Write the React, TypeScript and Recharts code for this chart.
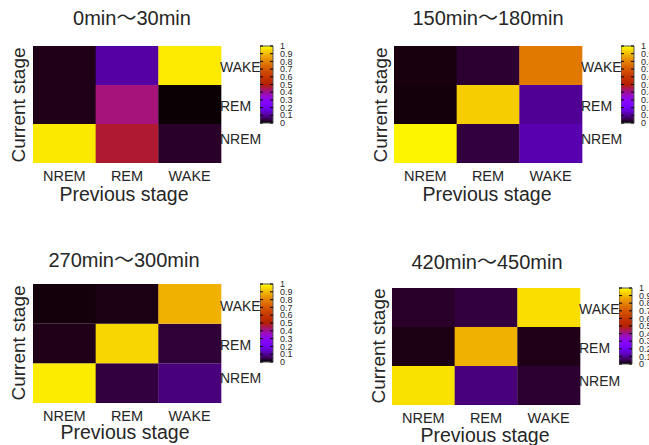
import { BarChart, Bar, Cell, XAxis, YAxis } from 'recharts'

/* ============ 睡眠段階遷移ヒートマップ ============ */

const stages = ['NREM', 'REM', 'WAKE']
const titles = ['0min〜30min', '150min〜180min', '270min〜300min', '420min〜450min']

// 行 = 現在の段階 (NREM, REM, WAKE)、列 = 直前の段階 (NREM, REM, WAKE)
const p0to30 = [
  [0.97, 0.47, 0.025],
  [0.015, 0.42, 0.002],
  [0.015, 0.11, 0.973],
]
const p150to180 = [
  [0.985, 0.04, 0.12],
  [0.006, 0.93, 0.1],
  [0.009, 0.03, 0.78],
]
const p270to300 = [
  [0.975, 0.04, 0.08],
  [0.015, 0.945, 0.035],
  [0.006, 0.012, 0.885],
]
const p420to450 = [
  [0.96, 0.08, 0.03],
  [0.012, 0.885, 0.015],
  [0.025, 0.04, 0.955],
]

// 右側ラベルの位置（行の中心から少しずれている）
const rowLabelTicks = [0.62, 1.45, 2.45]
const colorbarTicks = [0, 0.1, 0.2, 0.3, 0.4, 0.5, 0.6, 0.7, 0.8, 0.9, 1]

const FONT = '"Liberation Sans", Arial, "Noto Sans CJK JP", sans-serif'
const TEXT = '#262626'

// matplotlib の gnuplot カラーマップ
function gnuplot(v: number) {
  const r = Math.sqrt(v)
  const g = v * v * v
  const b = Math.max(0, Math.sin(2 * Math.PI * v))
  const h = (x: number) => Math.round(Math.min(1, Math.max(0, x)) * 255).toString(16).padStart(2, '0')
  return `#${h(r)}${h(g)}${h(b)}`
}

const gradStops = Array.from({ length: 21 }, (_, i) => i / 20)

function Heatmap({ matrix, left, top, w, h }: {
  matrix: number[][]
  left: number
  top: number
  w: number
  h: number
}) {
  const data = stages.map((prev) => ({ prev, NREM: 1, REM: 1, WAKE: 1 }))
  return (
    <div style={{ position: 'absolute', left, top }}>
      <BarChart
        width={w + 50}
        height={h + 30}
        data={data}
        margin={{ top: 0, right: 0, bottom: 0, left: 0 }}
        barCategoryGap={0}
        barGap={0}
      >
        <XAxis
          dataKey="prev"
          axisLine={false}
          tickLine={false}
          height={30}
          tick={{ fontSize: 14.5, fill: TEXT, fontFamily: FONT }}
        />
        <YAxis
          type="number"
          orientation="right"
          domain={[0, 3]}
          ticks={rowLabelTicks}
          tickFormatter={(_, i) => stages[i]}
          width={50}
          axisLine={false}
          tickLine={false}
          tickSize={0}
          tickMargin={-1}
          tick={{ fontSize: 14, fill: TEXT, fontFamily: FONT }}
        />
        {stages.map((cur, row) => (
          <Bar key={cur} dataKey={cur} stackId="a" isAnimationActive={false}>
            {stages.map((prev, col) => (
              <Cell key={prev} fill={gnuplot(matrix[row][col])} />
            ))}
          </Bar>
        ))}
      </BarChart>
    </div>
  )
}

function Colorbar({ id, left, top, w, h }: {
  id: string
  left: number
  top: number
  w: number
  h: number
}) {
  const renderTick = (props: any) => {
    const { x, y, payload } = props
    return (
      <g>
        <line x1={x - w} x2={x - w + 3} y1={y} y2={y} stroke="#000" />
        <line x1={x - 3} x2={x} y1={y} y2={y} stroke="#000" />
        <text x={x + 7} y={y} dy="0.35em" fontSize={9} fill={TEXT} fontFamily={FONT}>
          {payload.value}
        </text>
      </g>
    )
  }
  return (
    <div style={{ position: 'absolute', left, top: top - 6 }}>
      <BarChart
        width={w + 30}
        height={h + 12}
        data={[{ v: 1 }]}
        margin={{ top: 6, right: 0, bottom: 6, left: 0 }}
        barCategoryGap={0}
      >
        <defs>
          <linearGradient id={id} x1="0" y1="1" x2="0" y2="0">
            {gradStops.map((s) => (
              <stop key={s} offset={s} stopColor={gnuplot(s)} />
            ))}
          </linearGradient>
        </defs>
        <XAxis hide height={0} />
        <YAxis
          type="number"
          orientation="right"
          domain={[0, 1]}
          ticks={colorbarTicks}
          width={30}
          axisLine={false}
          tickLine={false}
          tickSize={0}
          tickMargin={0}
          interval={0}
          tick={renderTick}
        />
        <Bar dataKey="v" fill={`url(#${id})`} stroke="#555" strokeWidth={1} isAnimationActive={false} />
      </BarChart>
    </div>
  )
}

function Label({ text, x, y, size, rotate }: {
  text: string
  x: number
  y: number
  size: number
  rotate?: boolean
}) {
  return (
    <div
      style={{
        position: 'absolute',
        left: x,
        top: y,
        transform: `translate(-50%, -50%)${rotate ? ' rotate(-90deg)' : ''}`,
        fontSize: size,
        fontFamily: FONT,
        color: TEXT,
        whiteSpace: 'nowrap',
        lineHeight: 1,
      }}
    >
      {text}
    </div>
  )
}

const panels = [
  { matrix: p0to30, hx: 33, hy: 46, hw: 188, hh: 117, cbx: 260, cby: 46, cbh: 77, tx: 132, ty: 18, yl: [18, 105], xl: [124, 195] },
  { matrix: p150to180, hx: 394, hy: 46, hw: 188, hh: 117, cbx: 621, cby: 46, cbh: 77, tx: 488, ty: 18, yl: [380, 105], xl: [487, 195] },
  { matrix: p270to300, hx: 33, hy: 284, hw: 188, hh: 119, cbx: 260, cby: 284, cbh: 78, tx: 124, ty: 260, yl: [18, 343], xl: [125, 433] },
  { matrix: p420to450, hx: 392, hy: 288, hw: 188, hh: 117, cbx: 619, cby: 288, cbh: 76, tx: 487, ty: 262, yl: [378, 346], xl: [485, 436] },
]

export default function App() {
  return (
    <div
      style={{
        position: 'absolute',
        left: 0,
        top: 0,
        width: 649,
        height: 445,
        overflow: 'hidden',
        background: '#fff',
      }}
    >
      {panels.map((p, i) => (
        <div key={i}>
          <Heatmap matrix={p.matrix} left={p.hx} top={p.hy} w={p.hw} h={p.hh} />
          <Colorbar id={`cb${i}`} left={p.cbx} top={p.cby} w={13} h={p.cbh} />
          <Label text={titles[i]} x={p.tx} y={p.ty} size={20} />
          <Label text="Current stage" x={p.yl[0]} y={p.yl[1]} size={19} rotate />
          <Label text="Previous stage" x={p.xl[0]} y={p.xl[1]} size={19.5} />
        </div>
      ))}
    </div>
  )
}
